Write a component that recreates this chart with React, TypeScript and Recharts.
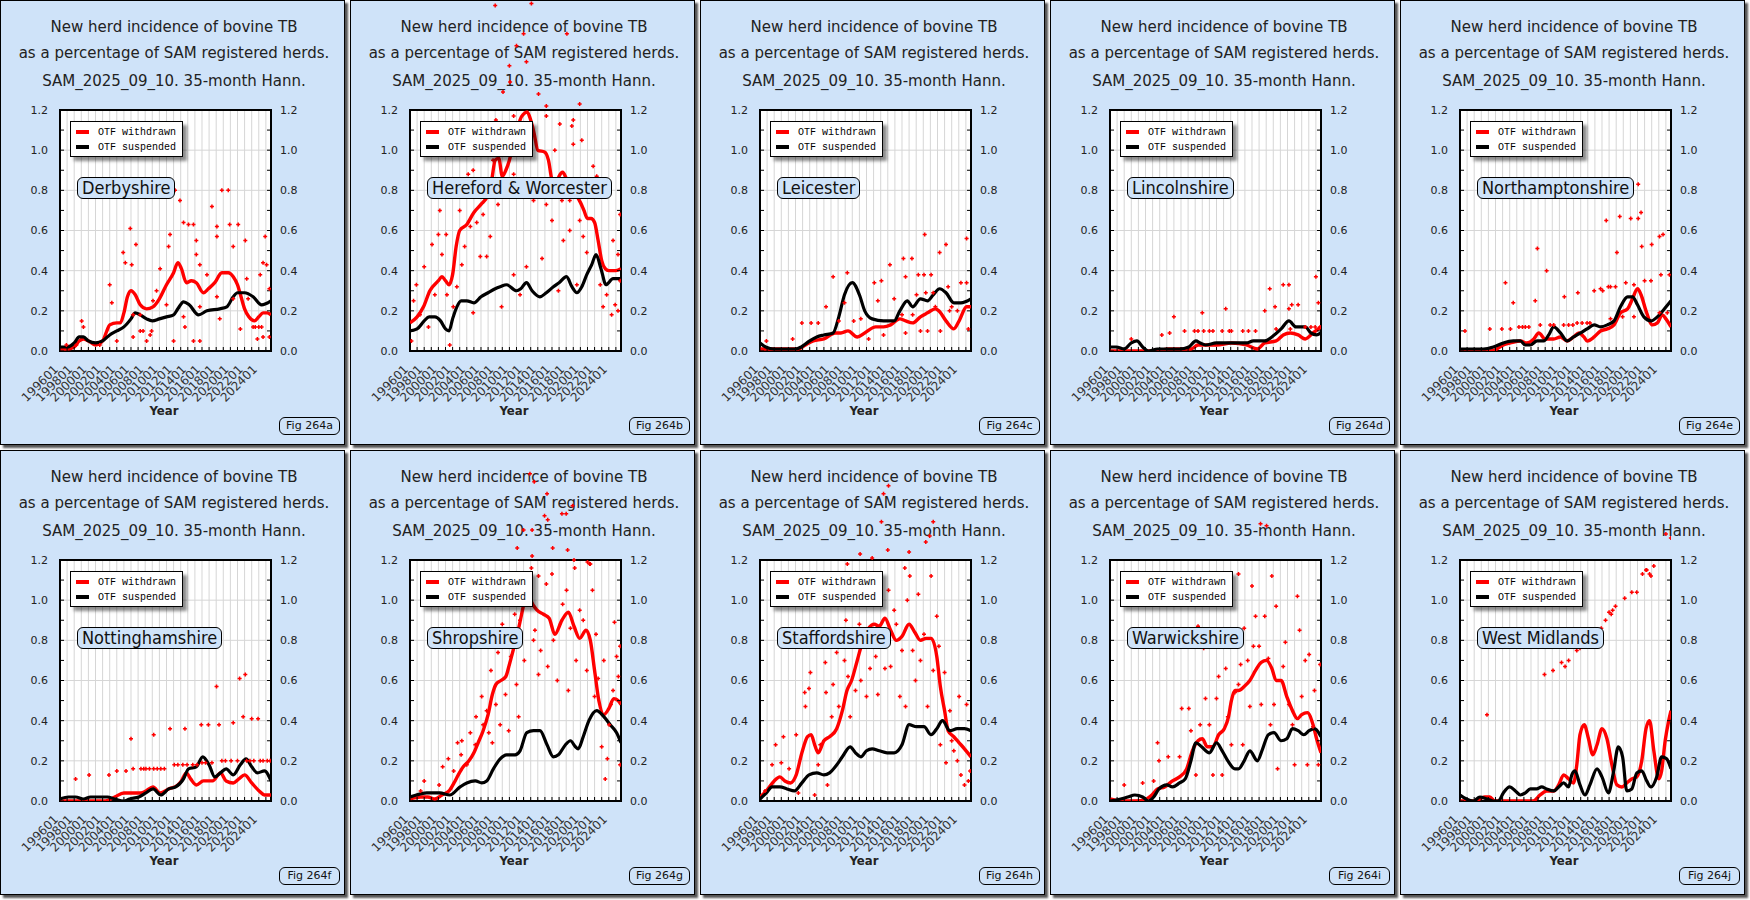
import { CartesianGrid, ComposedChart, Line, ReferenceArea, Scatter, XAxis, YAxis } from 'recharts'

type Pt = [number, number]

// ---- Derbyshire ----
const derbyshireWithdrawn: Pt[] = [
  [1996, 0.01], [1997, 0.01], [1998, 0.02], [1998.7, 0.05], [1999.3, 0.06], [2000, 0.05], [2001, 0.03], [2002, 0.05],
  [2002.6, 0.1], [2003, 0.13], [2004, 0.14], [2004.5, 0.14], [2005, 0.19], [2005.5, 0.27], [2006, 0.3], [2006.6, 0.28],
  [2007.3, 0.23], [2008.2, 0.21], [2009.1, 0.22], [2010, 0.26], [2011, 0.33], [2012, 0.39], [2012.6, 0.44], [2013.1, 0.41],
  [2013.8, 0.34], [2014.5, 0.35], [2015.2, 0.34], [2016.2, 0.29], [2016.9, 0.31], [2017.8, 0.34], [2018.8, 0.39], [2019.7, 0.39],
  [2020.4, 0.37], [2021, 0.33], [2021.5, 0.27], [2022, 0.21], [2022.6, 0.17], [2023.4, 0.15], [2024, 0.17], [2024.6, 0.19],
  [2025.2, 0.19], [2025.72, 0.18],
]
const derbyshireSuspended: Pt[] = [
  [1996, 0.02], [1997, 0.02], [1998, 0.04], [1998.7, 0.07], [1999.3, 0.07], [2000, 0.05], [2001, 0.04], [2002, 0.05],
  [2003, 0.08], [2004, 0.1], [2005, 0.12], [2006, 0.16], [2006.6, 0.19], [2007.3, 0.18], [2008.2, 0.16], [2009, 0.15],
  [2010, 0.16], [2011, 0.17], [2012, 0.18], [2012.6, 0.21], [2013.4, 0.245], [2014.2, 0.23], [2015.5, 0.18], [2016.7, 0.2],
  [2018.5, 0.21], [2019.5, 0.22], [2020.4, 0.27], [2021, 0.29], [2022, 0.29], [2023.2, 0.27], [2024.4, 0.23], [2025.72, 0.25],
]
const derbyshireMonthly: Pt[] = [
  [1999.05, 0.15], [1999.3, 0.12], [2003.0, 0.33], [2003.3, 0.24], [2004.9, 0.49], [2005.2, 0.44], [2005.9, 0.61], [2006.1, 0.43],
  [2006.7, 0.53], [2008.2, 0.05], [2007.7, 0.1], [2010.1, 0.41], [2009.1, 0.25], [2011.5, 0.58], [2011.3, 0.52], [2012.2, 0.8],
  [2012.9, 0.75], [2013.4, 0.64], [2014.1, 0.63], [2014.8, 0.63], [2015.2, 0.55], [2015.2, 0.48], [2015.7, 0.43], [2017.4, 0.72],
  [2018.1, 0.62], [2018.1, 0.57], [2018.8, 0.8], [2019.7, 0.8], [2019.9, 0.63], [2020.4, 0.52], [2021.1, 0.63], [2022.1, 0.55],
  [2022.3, 0.36], [2021.4, 0.11], [2022.5, 0.26], [2023.2, 0.12], [2024.2, 0.38], [2024.6, 0.44], [2025.1, 0.43], [2024.9, 0.57],
  [2025.5, 0.31], [2025.5, 0.07], [2024.6, 0.07], [2012.0, 0.05], [2013.6, 0.12], [2014.8, 0.05], [2015.7, 0.05], [2013.4, 0.17],
  [2015.7, 0.22], [2018.1, 0.27], [2020.4, 0.26], [2016.7, 0.38], [2018.5, 0.16], [2011.0, 0.23], [2009.6, 0.3], [2023.5, 0.12],
  [2024.0, 0.12], [2024.4, 0.12], [2023.8, 0.06], [1996.9, 0.03], [1998.3, 0.03], [2001.6, 0.03], [2004.0, 0.05], [2006.3, 0.07],
  [2007.3, 0.1], [2008.9, 0.1], [2006.3, 0.18], [2007.3, 0.18], [2008.7, 0.08],
]

// ---- Hereford & Worcester ----
const herefordWithdrawn: Pt[] = [
  [1996, 0.14], [1997, 0.17], [1997.9, 0.22], [1998.8, 0.3], [2000, 0.35], [2000.5, 0.37], [2001, 0.35], [2001.5, 0.33],
  [2002, 0.38], [2002.5, 0.52], [2003, 0.6], [2004, 0.63], [2005, 0.69], [2006, 0.73], [2007, 0.78], [2007.5, 0.85],
  [2008, 0.95], [2008.5, 0.96], [2009, 0.87], [2009.5, 0.9], [2010, 0.95], [2010.5, 1.02], [2011, 1.06], [2011.5, 1.15],
  [2012, 1.18], [2012.5, 1.19], [2013, 1.15], [2013.5, 1.08], [2014, 1.0], [2015, 0.99], [2015.5, 0.95], [2016, 0.85],
  [2016.5, 0.82], [2017, 0.87], [2017.5, 0.89], [2018, 0.86], [2018.5, 0.82], [2019, 0.78], [2019.5, 0.77], [2020, 0.74],
  [2020.5, 0.7], [2021, 0.66], [2021.5, 0.66], [2022, 0.64], [2022.5, 0.55], [2023, 0.45], [2023.5, 0.41], [2024, 0.4],
  [2025, 0.4], [2025.72, 0.41],
]
const herefordSuspended: Pt[] = [
  [1996, 0.1], [1997, 0.11], [1998, 0.15], [1998.7, 0.17], [1999.5, 0.17], [2000.3, 0.15], [2001, 0.11], [2001.5, 0.1],
  [2002, 0.16], [2002.6, 0.22], [2003.2, 0.25], [2004, 0.25], [2005, 0.24], [2006, 0.27], [2007, 0.29], [2008, 0.31],
  [2008.7, 0.32], [2009.6, 0.33], [2011, 0.3], [2011.6, 0.31], [2012.4, 0.34], [2013.2, 0.3], [2014.3, 0.27], [2015.2, 0.29],
  [2016.2, 0.32], [2017, 0.34], [2018.05, 0.37], [2018.8, 0.32], [2019.5, 0.29], [2020.2, 0.32], [2020.9, 0.38], [2021.6, 0.43],
  [2022.2, 0.48], [2022.9, 0.41], [2023.6, 0.33], [2024.6, 0.36], [2025.72, 0.36],
]
const herefordMonthly: Pt[] = [
  [1996.2, 0.05], [1996.5, 0.25], [1996.9, 0.33], [1997.4, 0.18], [1998.0, 0.42], [1998.6, 0.12], [1999.1, 0.53], [1999.5, 0.28],
  [2000.0, 0.58], [2000.2, 0.7], [2000.5, 0.48], [2001.1, 0.58], [2001.2, 0.28], [2001.6, 0.03], [2002.1, 0.22], [2002.6, 0.32],
  [2003.0, 0.7], [2003.3, 0.43], [2003.7, 0.52], [2004.0, 0.82], [2004.2, 0.88], [2004.5, 0.62], [2004.9, 0.9], [2004.9, 0.19],
  [2005.4, 0.64], [2005.9, 0.47], [2006.3, 0.68], [2006.8, 0.47], [2007.3, 0.57], [2007.7, 0.95], [2008.1, 1.15], [2008.4, 0.73],
  [2010.6, 0.88], [2011.5, 0.77], [2012.4, 0.42], [2013.4, 0.75], [2014.3, 0.8], [2015.2, 0.73], [2016.0, 0.65], [2016.4, 1.0],
  [2017.4, 0.75], [2017.6, 0.55], [2018.5, 0.6], [2019.0, 1.03], [2019.9, 0.65], [2019.5, 0.33], [2020.4, 0.57], [2020.9, 0.49],
  [2021.8, 0.92], [2022.3, 0.87], [2022.8, 0.33], [2023.2, 0.22], [2023.7, 0.28], [2024.4, 0.18], [2024.6, 0.55], [2024.9, 0.23],
  [2025.3, 0.2], [2025.6, 0.68], [2025.3, 0.48], [2025.6, 0.35], [2008.9, 0.22], [2010.6, 0.38], [2011.5, 0.28], [2014.6, 0.46],
  [2016.9, 0.3], [2018.5, 0.75], [2008.0, 1.72], [2010.0, 1.42], [2011.0, 1.52], [2012.0, 1.58], [2013.1, 1.73], [2012.4, 1.44],
  [2010.1, 1.34], [2009.1, 1.29], [2014.1, 1.28], [2015.2, 1.22], [2018.1, 1.58], [2019.9, 1.23], [2018.8, 1.12], [2010.6, 1.17],
  [2015.2, 1.17], [2017.1, 1.13], [2019.0, 1.15], [2020.2, 1.05],
]

// ---- Leicester ----
const leicesterWithdrawn: Pt[] = [
  [1996, 0.01], [1999.8, 0.01], [2001.4, 0.01], [2002.4, 0.03], [2003.5, 0.05], [2005.0, 0.06], [2006.6, 0.09], [2007.4, 0.09],
  [2008.4, 0.1], [2009.7, 0.07], [2010.75, 0.09], [2012.3, 0.12], [2013.4, 0.12], [2014.4, 0.13], [2015.7, 0.16], [2016.5, 0.15],
  [2017.5, 0.14], [2018.6, 0.17], [2019.6, 0.19], [2020.7, 0.21], [2021.2, 0.2], [2022.2, 0.15], [2023.3, 0.11], [2024.05, 0.15],
  [2025.1, 0.22], [2025.72, 0.22],
]
const leicesterSuspended: Pt[] = [
  [1996, 0.04], [1996.8, 0.02], [1998, 0.01], [2001, 0.01], [2001.8, 0.02], [2003, 0.05], [2004, 0.07], [2005, 0.08],
  [2006.3, 0.09], [2007.1, 0.17], [2007.9, 0.28], [2009.0, 0.34], [2010.0, 0.28], [2010.75, 0.2], [2011.8, 0.16], [2013.4, 0.15],
  [2014.9, 0.15], [2015.7, 0.2], [2016.75, 0.25], [2017.5, 0.22], [2018.6, 0.26], [2019.6, 0.25], [2020.4, 0.28], [2021.3, 0.31],
  [2022.2, 0.29], [2023.3, 0.24], [2024.3, 0.24], [2025.72, 0.26],
]
const leicesterMonthly: Pt[] = [
  [1996.9, 0.05], [2000.6, 0.06], [2001.9, 0.14], [2003.2, 0.14], [2004.2, 0.14], [2005.3, 0.22], [2006.3, 0.37], [2008.3, 0.39],
  [2007.9, 0.24], [2007.1, 0.15], [2009.2, 0.15], [2010.2, 0.16], [2012.1, 0.34], [2012.6, 0.25], [2013.1, 0.35], [2014.3, 0.43],
  [2014.9, 0.26], [2016.2, 0.46], [2016.5, 0.37], [2017.4, 0.46], [2018.3, 0.38], [2019.1, 0.38], [2019.2, 0.58], [2020.1, 0.38],
  [2020.4, 0.29], [2021.3, 0.49], [2021.4, 0.1], [2022.2, 0.53], [2022.5, 0.32], [2023.0, 0.22], [2024.3, 0.34], [2025.1, 0.56],
  [2025.1, 0.34], [2025.35, 0.11], [2019.6, 0.1], [2018.6, 0.1], [2016.5, 0.09], [2013.4, 0.08], [2011.3, 0.06], [2018.05, 0.28],
  [2019.35, 0.29], [2020.7, 0.22], [2022.7, 0.2], [2016.0, 0.18], [2017.5, 0.18], [2023.8, 0.2],
]

// ---- Lincolnshire ----
const lincolnshireWithdrawn: Pt[] = [
  [1996, 0.0], [2002.7, 0.0], [2004.2, 0.01], [2007.4, 0.01], [2008.4, 0.03], [2009.45, 0.03], [2011.0, 0.03], [2013.1, 0.04],
  [2015.2, 0.03], [2016.75, 0.01], [2017.8, 0.04], [2019.4, 0.05], [2020.4, 0.08], [2021.4, 0.09], [2022.5, 0.08], [2023.5, 0.06],
  [2024.6, 0.09], [2025.72, 0.12],
]
const lincolnshireSuspended: Pt[] = [
  [1996, 0.02], [1996.9, 0.02], [1998.0, 0.01], [1999.0, 0.04], [1999.8, 0.05], [2000.6, 0.02], [2001.4, 0.0], [2002.7, 0.01],
  [2005.8, 0.01], [2007.1, 0.02], [2008.1, 0.05], [2008.7, 0.04], [2009.45, 0.03], [2011.0, 0.04], [2015.2, 0.04], [2016.2, 0.05],
  [2017.8, 0.05], [2018.8, 0.07], [2020.1, 0.11], [2021.2, 0.15], [2022.2, 0.12], [2023.5, 0.12], [2024.3, 0.09], [2025.1, 0.08],
  [2025.72, 0.09],
]
const lincolnshireMonthly: Pt[] = [
  [1999.0, 0.06], [2003.3, 0.08], [2004.4, 0.09], [2005.0, 0.17], [2006.5, 0.1], [2009.0, 0.19], [2007.9, 0.1], [2009.2, 0.1],
  [2010.5, 0.1], [2011.8, 0.1], [2012.3, 0.21], [2013.1, 0.1], [2014.7, 0.1], [2016.5, 0.1], [2017.8, 0.2], [2018.5, 0.31],
  [2019.25, 0.22], [2020.4, 0.33], [2021.2, 0.33], [2021.2, 0.21], [2021.6, 0.23], [2022.5, 0.23], [2023.5, 0.12], [2025.0, 0.37],
  [2025.35, 0.24], [2025.6, 0.12], [2019.4, 0.11], [2021.4, 0.11], [2008.4, 0.1], [2010.0, 0.1], [2012.8, 0.1], [2015.5, 0.1],
  [2024.3, 0.12], [2024.9, 0.12],
]

// ---- Northamptonshire ----
const northamptonshireWithdrawn: Pt[] = [
  [1996, 0.0], [2000.2, 0.0], [2001.2, 0.01], [2002.1, 0.03], [2003.1, 0.04], [2004.5, 0.05], [2005.4, 0.04], [2006.4, 0.06],
  [2007.1, 0.09], [2008.0, 0.06], [2009.2, 0.06], [2010.15, 0.07], [2011.1, 0.05], [2012.0, 0.07], [2012.75, 0.09], [2013.45, 0.07],
  [2013.9, 0.05], [2014.9, 0.07], [2015.8, 0.1], [2016.75, 0.11], [2017.7, 0.13], [2018.6, 0.19], [2019.6, 0.21], [2020.3, 0.26],
  [2021.0, 0.31], [2021.5, 0.28], [2022.2, 0.2], [2023.1, 0.13], [2023.8, 0.14], [2024.5, 0.18], [2025.0, 0.16], [2025.72, 0.12],
]
const northamptonshireSuspended: Pt[] = [
  [1996, 0.01], [1999.3, 0.01], [2000.7, 0.02], [2002.1, 0.04], [2003.5, 0.05], [2004.5, 0.05], [2005.2, 0.03], [2005.9, 0.03],
  [2006.85, 0.05], [2007.8, 0.05], [2008.5, 0.08], [2009.2, 0.12], [2010.15, 0.09], [2011.1, 0.05], [2012.0, 0.07], [2013.0, 0.09],
  [2013.9, 0.11], [2014.9, 0.13], [2015.8, 0.12], [2016.75, 0.13], [2017.7, 0.15], [2018.6, 0.22], [2019.6, 0.27], [2020.3, 0.27],
  [2021.0, 0.23], [2021.9, 0.17], [2022.9, 0.15], [2023.8, 0.17], [2024.8, 0.21], [2025.72, 0.25],
]
const northamptonshireMonthly: Pt[] = [
  [1996.7, 0.1], [2000.2, 0.11], [2002.4, 0.34], [2003.5, 0.24], [2001.9, 0.11], [2003.1, 0.11], [2004.3, 0.12], [2005.2, 0.12],
  [2006.6, 0.25], [2006.9, 0.51], [2007.3, 0.13], [2008.2, 0.4], [2009.2, 0.13], [2010.6, 0.13], [2010.7, 0.27], [2012.5, 0.14],
  [2012.6, 0.29], [2013.9, 0.14], [2014.9, 0.3], [2015.8, 0.31], [2016.6, 0.65], [2017.2, 0.32], [2017.9, 0.32], [2018.1, 0.49],
  [2018.5, 0.67], [2019.35, 0.34], [2020.05, 0.66], [2020.5, 0.33], [2021.1, 0.83], [2021.1, 0.66], [2021.5, 0.69], [2021.6, 0.52],
  [2022.0, 0.35], [2022.9, 0.35], [2023.0, 0.53], [2024.1, 0.57], [2024.6, 0.58], [2024.3, 0.38], [2025.5, 0.38], [2024.1, 0.19],
  [2025.2, 0.19], [2018.9, 0.17], [2020.5, 0.17], [2017.2, 0.16], [2004.8, 0.12], [2005.7, 0.12], [2008.7, 0.13], [2011.3, 0.13],
  [2011.9, 0.13], [2013.2, 0.14], [2014.3, 0.14], [2016.1, 0.3], [2016.9, 0.32],
]

// ---- Nottinghamshire ----
const nottinghamshireWithdrawn: Pt[] = [
  [1996, 0.0], [2002.4, 0.0], [2003.7, 0.02], [2005.0, 0.04], [2006.3, 0.04], [2007.4, 0.04], [2008.1, 0.05], [2009.1, 0.07],
  [2010.1, 0.04], [2011.3, 0.06], [2012.6, 0.08], [2013.1, 0.1], [2013.8, 0.14], [2014.4, 0.11], [2015.2, 0.08], [2016.2, 0.1],
  [2017.5, 0.1], [2018.6, 0.14], [2019.4, 0.1], [2020.4, 0.09], [2021.2, 0.11], [2022.0, 0.13], [2023.0, 0.09], [2024.05, 0.05],
  [2024.8, 0.03], [2025.72, 0.03],
]
const nottinghamshireSuspended: Pt[] = [
  [1996, 0.01], [1997.2, 0.02], [1998.2, 0.02], [1999.3, 0.01], [2000.3, 0.02], [2002.7, 0.02], [2003.7, 0.01], [2005.0, 0.0],
  [2005.8, 0.01], [2007.1, 0.02], [2008.1, 0.04], [2009.1, 0.06], [2010.2, 0.03], [2011.3, 0.06], [2012.3, 0.07], [2013.4, 0.11],
  [2014.1, 0.16], [2015.2, 0.17], [2016.1, 0.22], [2017.0, 0.18], [2017.8, 0.12], [2018.6, 0.14], [2019.4, 0.16], [2020.4, 0.13],
  [2021.4, 0.18], [2022.2, 0.21], [2023.0, 0.17], [2023.8, 0.14], [2024.8, 0.15], [2025.72, 0.1],
]
const nottinghamshireMonthly: Pt[] = [
  [1998.2, 0.11], [2000.1, 0.13], [2002.9, 0.13], [2004.0, 0.15], [2005.3, 0.15], [2006.0, 0.31], [2006.3, 0.16], [2007.4, 0.16],
  [2008.1, 0.16], [2009.2, 0.16], [2009.2, 0.33], [2010.2, 0.16], [2011.5, 0.36], [2012.1, 0.18], [2013.6, 0.36], [2013.9, 0.18],
  [2014.7, 0.18], [2015.9, 0.38], [2016.0, 0.19], [2016.9, 0.38], [2017.4, 0.19], [2018.05, 0.57], [2018.4, 0.38], [2018.8, 0.2],
  [2020.1, 0.2], [2020.4, 0.39], [2021.3, 0.61], [2021.8, 0.42], [2022.1, 0.63], [2022.75, 0.2], [2023.0, 0.41], [2023.9, 0.41],
  [2024.6, 0.2], [2025.6, 0.2], [2007.8, 0.16], [2008.6, 0.16], [2009.7, 0.16], [2010.7, 0.16], [2012.6, 0.18], [2013.3, 0.18],
  [2015.3, 0.18], [2016.5, 0.19], [2019.3, 0.2], [2021.0, 0.2], [2022.3, 0.2], [2023.3, 0.2], [2024.2, 0.2], [2025.2, 0.2],
]

// ---- Shropshire ----
const shropshireWithdrawn: Pt[] = [
  [1996, 0.01], [1997.5, 0.02], [1998.5, 0.02], [1999.5, 0.01], [2000.5, 0.03], [2001.5, 0.05], [2002.2, 0.09], [2002.8, 0.13],
  [2003.5, 0.17], [2004.3, 0.2], [2005, 0.24], [2005.6, 0.29], [2006.3, 0.35], [2007, 0.43], [2007.6, 0.53], [2008.1, 0.58],
  [2008.8, 0.6], [2009.5, 0.62], [2010, 0.68], [2010.6, 0.76], [2011.3, 0.86], [2011.9, 0.96], [2012.5, 1.06], [2013.0, 1.0],
  [2013.9, 0.95], [2014.8, 0.93], [2015.6, 0.91], [2016.4, 0.83], [2017.4, 0.9], [2018.3, 0.94], [2019.1, 0.87], [2019.9, 0.81],
  [2020.8, 0.85], [2021.4, 0.8], [2022.0, 0.65], [2022.6, 0.5], [2023.3, 0.43], [2024.0, 0.46], [2024.7, 0.51], [2025.3, 0.5],
  [2025.72, 0.48],
]
const shropshireSuspended: Pt[] = [
  [1996, 0.02], [1996.9, 0.03], [1998.35, 0.04], [2000.2, 0.04], [2001.6, 0.03], [2003.05, 0.07], [2004, 0.09], [2005.2, 0.1],
  [2006.1, 0.09], [2006.8, 0.1], [2007.75, 0.16], [2008.7, 0.21], [2009.6, 0.23], [2010.8, 0.23], [2011.5, 0.25], [2012.45, 0.34],
  [2013.4, 0.35], [2014.3, 0.35], [2015.3, 0.28], [2016.2, 0.22], [2016.9, 0.23], [2017.9, 0.28], [2018.6, 0.3], [2019.3, 0.27],
  [2019.7, 0.26], [2020.4, 0.32], [2021.2, 0.4], [2022.3, 0.45], [2023.3, 0.42], [2024.2, 0.38], [2025.1, 0.34], [2025.72, 0.29],
]
const shropshireMonthly: Pt[] = [
  [1998.0, 0.1], [1997.5, 0.05], [2000.1, 0.08], [2000.6, 0.17], [2001.4, 0.21], [2002.15, 0.15], [2002.7, 0.29], [2003.2, 0.23],
  [2003.3, 0.3], [2004.0, 0.18], [2004.5, 0.34], [2005.3, 0.42], [2005.2, 0.28], [2006.1, 0.52], [2006.3, 0.38], [2006.8, 0.45],
  [2007.1, 0.34], [2007.4, 0.65], [2007.6, 0.29], [2008.1, 0.48], [2008.4, 0.74], [2008.7, 0.38], [2009.0, 0.88], [2009.45, 0.53],
  [2009.9, 0.35], [2010.2, 0.72], [2010.75, 0.93], [2011.0, 0.58], [2011.3, 0.42], [2011.5, 0.9], [2012.1, 0.7], [2012.6, 1.03],
  [2013.1, 1.16], [2013.4, 0.8], [2013.6, 0.85], [2014.1, 0.63], [2014.4, 0.75], [2015.2, 1.08], [2015.4, 0.67], [2016.0, 1.13],
  [2016.2, 0.8], [2016.75, 0.6], [2017.5, 0.98], [2018.05, 1.05], [2018.3, 0.55], [2018.6, 0.86], [2019.1, 1.2], [2019.4, 0.7],
  [2019.9, 0.95], [2020.4, 0.9], [2020.9, 0.65], [2021.3, 1.18], [2021.7, 1.05], [2022.0, 0.52], [2022.2, 0.83], [2022.5, 0.61],
  [2023.0, 0.27], [2023.3, 0.7], [2023.5, 0.11], [2023.8, 0.21], [2024.05, 0.38], [2024.6, 0.55], [2024.8, 0.89], [2025.1, 0.72],
  [2025.35, 0.62], [2025.6, 0.18], [2025.6, 0.77], [2024.3, 0.48], [2012.9, 1.63], [2013.5, 1.59], [2015.3, 1.53], [2018.9, 1.47],
  [2017.4, 1.43], [2018.0, 1.43], [2014.95, 1.42], [2015.4, 1.4], [2012.0, 1.35], [2013.2, 1.35], [2011.1, 1.26], [2016.1, 1.26],
  [2018.2, 1.25], [2013.2, 1.22], [2021.0, 1.19], [2021.4, 1.18], [2019.2, 1.16], [2014.1, 1.12],
]

// ---- Staffordshire ----
const staffordshireWithdrawn: Pt[] = [
  [1996, 0.02], [1996.9, 0.05], [1998.0, 0.1], [1998.8, 0.12], [1999.5, 0.1], [2000.3, 0.09], [2001.1, 0.13], [2001.9, 0.24],
  [2002.7, 0.32], [2003.2, 0.33], [2003.7, 0.28], [2004.2, 0.24], [2005.0, 0.3], [2005.8, 0.32], [2006.8, 0.36], [2007.6, 0.45],
  [2008.25, 0.55], [2008.9, 0.6], [2009.7, 0.7], [2010.5, 0.8], [2011.3, 0.86], [2012.1, 0.88], [2012.8, 0.87], [2013.6, 0.91],
  [2014.4, 0.85], [2015.2, 0.8], [2016.0, 0.82], [2017.0, 0.88], [2017.8, 0.84], [2018.6, 0.8], [2019.4, 0.81], [2020.1, 0.81],
  [2020.9, 0.72], [2021.4, 0.57], [2022.0, 0.45], [2022.5, 0.35], [2023.3, 0.32], [2024.05, 0.29], [2024.8, 0.26], [2025.72, 0.22],
]
const staffordshireSuspended: Pt[] = [
  [1996, 0.01], [1996.9, 0.04], [1997.7, 0.07], [1998.8, 0.07], [1999.8, 0.06], [2000.85, 0.05], [2001.9, 0.09], [2002.9, 0.13],
  [2004.0, 0.14], [2005.0, 0.13], [2005.8, 0.14], [2006.6, 0.17], [2007.6, 0.22], [2008.7, 0.27], [2009.45, 0.24], [2010.2, 0.22],
  [2011.0, 0.25], [2011.8, 0.26], [2012.8, 0.25], [2013.9, 0.24], [2014.9, 0.24], [2016.0, 0.28], [2017.0, 0.38], [2018.05, 0.37],
  [2019.1, 0.37], [2020.1, 0.33], [2020.9, 0.36], [2021.7, 0.4], [2022.75, 0.35], [2023.8, 0.36], [2024.8, 0.36], [2025.72, 0.35],
]
const staffordshireMonthly: Pt[] = [
  [1996.7, 0.05], [1997.7, 0.18], [1998.2, 0.28], [1999.0, 0.19], [1999.3, 0.32], [2000.1, 0.16], [2001.1, 0.33], [2001.4, 0.04],
  [2002.3, 0.54], [2002.4, 0.47], [2002.9, 0.56], [2003.1, 0.64], [2003.7, 0.03], [2004.2, 0.18], [2004.5, 0.28], [2005.2, 0.69],
  [2005.3, 0.54], [2005.5, 0.08], [2006.1, 0.42], [2006.3, 0.58], [2006.8, 0.74], [2007.1, 0.47], [2007.9, 0.7], [2008.1, 0.9],
  [2008.4, 0.62], [2008.7, 0.42], [2009.2, 0.85], [2009.45, 0.55], [2010.0, 0.88], [2010.2, 0.6], [2011.0, 0.52], [2011.3, 0.78],
  [2011.5, 0.66], [2012.1, 1.02], [2012.3, 0.72], [2012.6, 0.53], [2013.1, 0.84], [2013.6, 0.66], [2014.1, 1.05], [2014.4, 0.67],
  [2014.9, 0.95], [2015.2, 0.88], [2015.7, 0.52], [2016.0, 0.75], [2016.4, 1.16], [2016.5, 0.47], [2016.75, 1.0], [2017.1, 1.12],
  [2017.5, 0.75], [2017.9, 0.6], [2018.3, 1.03], [2018.6, 0.7], [2019.1, 0.83], [2019.6, 0.47], [2020.1, 1.12], [2020.4, 0.65],
  [2020.9, 0.92], [2021.2, 0.77], [2021.4, 0.28], [2022.0, 0.64], [2022.2, 0.19], [2022.75, 0.45], [2023.0, 0.3], [2023.3, 0.25],
  [2023.8, 0.2], [2024.05, 0.52], [2024.3, 0.13], [2024.8, 0.08], [2025.1, 0.48], [2025.35, 0.1], [2025.6, 0.15], [2008.3, 1.18],
  [2010.1, 1.23], [2011.8, 1.21], [2014.0, 1.25], [2017.0, 1.24], [2019.35, 1.29], [2019.9, 1.32], [2020.4, 1.39], [2013.1, 1.39],
  [2014.1, 1.57], [2013.4, 1.53],
]

// ---- Warwickshire ----
const warwickshireWithdrawn: Pt[] = [
  [1996, 0.01], [1997.5, 0.0], [1999.5, 0.0], [2001.1, 0.01], [2001.9, 0.03], [2002.7, 0.06], [2003.7, 0.07], [2004.8, 0.1],
  [2005.8, 0.12], [2006.8, 0.16], [2007.6, 0.25], [2008.4, 0.3], [2009.0, 0.31], [2009.7, 0.27], [2010.5, 0.27], [2011.3, 0.33],
  [2012.1, 0.36], [2012.7, 0.42], [2013.1, 0.5], [2013.6, 0.55], [2014.1, 0.55], [2014.9, 0.57], [2015.7, 0.6], [2016.5, 0.65],
  [2017.3, 0.69], [2018.05, 0.7], [2018.8, 0.66], [2019.4, 0.6], [2020.1, 0.6], [2020.9, 0.52], [2021.7, 0.45], [2022.4, 0.41],
  [2023.0, 0.43], [2023.8, 0.44], [2024.6, 0.38], [2025.1, 0.31], [2025.72, 0.24],
]
const warwickshireSuspended: Pt[] = [
  [1996, 0.0], [1997.5, 0.01], [1998.5, 0.02], [1999.5, 0.03], [2000.6, 0.02], [2001.4, 0.0], [2002.15, 0.02], [2002.9, 0.06],
  [2004.0, 0.08], [2004.8, 0.07], [2005.8, 0.09], [2006.6, 0.11], [2007.4, 0.2], [2008.1, 0.29], [2008.9, 0.27], [2010.0, 0.24],
  [2011.0, 0.29], [2011.8, 0.25], [2012.6, 0.2], [2013.6, 0.16], [2014.1, 0.16], [2014.9, 0.2], [2015.7, 0.25], [2016.75, 0.2],
  [2017.5, 0.26], [2018.3, 0.33], [2019.1, 0.34], [2020.1, 0.3], [2020.9, 0.31], [2021.7, 0.36], [2022.5, 0.35], [2023.3, 0.33],
  [2024.05, 0.35], [2024.8, 0.36], [2025.72, 0.32],
]
const warwickshireMonthly: Pt[] = [
  [1998.0, 0.08], [2000.6, 0.09], [2002.15, 0.1], [2002.7, 0.29], [2002.9, 0.2], [2004.2, 0.22], [2005.8, 0.22], [2006.1, 0.46],
  [2007.1, 0.46], [2007.4, 0.35], [2008.1, 0.13], [2008.4, 0.87], [2008.7, 0.38], [2009.2, 0.76], [2009.45, 0.51], [2010.0, 0.38],
  [2010.5, 0.13], [2011.0, 0.51], [2011.3, 0.62], [2011.8, 0.13], [2012.3, 0.66], [2012.6, 0.42], [2013.1, 0.28], [2013.6, 0.54],
  [2014.1, 0.58], [2014.4, 0.68], [2014.7, 0.28], [2014.9, 0.86], [2015.4, 0.7], [2015.7, 0.47], [2016.0, 1.07], [2016.2, 0.77],
  [2016.5, 0.92], [2017.0, 0.77], [2017.3, 0.48], [2017.8, 0.92], [2018.3, 0.71], [2018.6, 0.38], [2018.8, 1.12], [2019.1, 0.48],
  [2019.4, 0.97], [2019.6, 0.16], [2020.4, 0.67], [2020.7, 0.79], [2021.2, 0.48], [2021.7, 0.38], [2022.0, 0.18], [2022.4, 1.02],
  [2022.7, 0.85], [2023.0, 0.52], [2023.5, 0.7], [2023.8, 0.18], [2024.05, 0.73], [2024.6, 0.37], [2024.8, 0.55], [2025.35, 0.18],
  [2025.6, 0.68], [2014.1, 1.13], [2017.2, 1.38], [2018.05, 1.37],
]

// ---- West Midlands ----
const westMidlandsWithdrawn: Pt[] = [
  [1996, 0.0], [1997.9, 0.0], [1998.8, 0.01], [1999.5, 0.02], [2000.2, 0.02], [2000.9, 0.0], [2006.3, 0.0], [2007.3, 0.03],
  [2008.2, 0.05], [2009.2, 0.05], [2009.9, 0.08], [2010.6, 0.13], [2011.3, 0.11], [2012.0, 0.09], [2012.45, 0.18], [2012.9, 0.33],
  [2013.5, 0.38], [2014.1, 0.31], [2014.7, 0.23], [2015.3, 0.28], [2016.0, 0.36], [2016.7, 0.31], [2017.4, 0.18], [2018.1, 0.08],
  [2018.8, 0.07], [2019.5, 0.09], [2020.2, 0.11], [2020.9, 0.12], [2021.6, 0.2], [2022.2, 0.36], [2022.7, 0.4], [2023.3, 0.25],
  [2024.0, 0.11], [2024.4, 0.15], [2024.9, 0.3], [2025.4, 0.4], [2025.72, 0.45],
]
const westMidlandsSuspended: Pt[] = [
  [1996, 0.03], [1996.9, 0.01], [1997.9, 0.0], [1998.8, 0.02], [1999.8, 0.01], [2000.7, 0.0], [2001.4, 0.0], [2002.1, 0.04],
  [2003.0, 0.07], [2003.8, 0.05], [2004.5, 0.03], [2005.2, 0.04], [2005.9, 0.06], [2006.8, 0.06], [2007.5, 0.07], [2008.2, 0.06],
  [2009.2, 0.05], [2009.9, 0.07], [2010.6, 0.09], [2011.3, 0.07], [2011.75, 0.13], [2012.2, 0.15], [2012.9, 0.08], [2013.6, 0.03],
  [2014.3, 0.08], [2015.3, 0.16], [2016.0, 0.12], [2016.9, 0.04], [2017.6, 0.14], [2018.3, 0.27], [2018.9, 0.22], [2019.5, 0.05],
  [2020.2, 0.06], [2020.9, 0.14], [2021.6, 0.15], [2022.3, 0.1], [2022.9, 0.07], [2023.7, 0.12], [2024.4, 0.22], [2025.1, 0.21],
  [2025.72, 0.16],
]
const westMidlandsMonthly: Pt[] = [
  [1999.8, 0.43], [2007.9, 0.63], [2009.1, 0.65], [2010.3, 0.69], [2010.8, 0.67], [2011.3, 0.7], [2012.45, 0.75], [2012.9, 0.76],
  [2015.9, 0.86], [2016.5, 0.9], [2017.0, 0.94], [2017.3, 0.93], [2017.5, 0.95], [2017.9, 0.97], [2019.2, 1.01], [2020.2, 1.04],
  [2020.9, 1.04], [2021.7, 1.13], [2022.2, 1.15], [2022.3, 1.15], [2022.7, 1.13], [2022.9, 1.12], [2023.3, 1.17], [2025.0, 1.33],
  [2025.7, 1.31],
]

const yearTicks = [
  1996, 1997, 1998, 1999, 2000, 2001, 2002, 2003, 2004, 2005, 2006, 2007, 2008, 2009, 2010,
  2011, 2012, 2013, 2014, 2015, 2016, 2017, 2018, 2019, 2020, 2021, 2022, 2023, 2024, 2025,
]
const yTicks = [0, 0.1, 0.2, 0.3, 0.4, 0.5, 0.6, 0.7, 0.8, 0.9, 1.0, 1.1, 1.2]
const yGridValues = [0.2, 0.4, 0.6, 0.8, 1.0, 1.2]
const titleLines = [
  'New herd incidence of bovine TB',
  'as a percentage of SAM registered herds.',
  'SAM_2025_09_10. 35-month Hann.',
]

const panels = [
  { name: 'Derbyshire', fig: 'Fig 264a', withdrawn: derbyshireWithdrawn, suspended: derbyshireSuspended, monthly: derbyshireMonthly },
  { name: 'Hereford & Worcester', fig: 'Fig 264b', withdrawn: herefordWithdrawn, suspended: herefordSuspended, monthly: herefordMonthly },
  { name: 'Leicester', fig: 'Fig 264c', withdrawn: leicesterWithdrawn, suspended: leicesterSuspended, monthly: leicesterMonthly },
  { name: 'Lincolnshire', fig: 'Fig 264d', withdrawn: lincolnshireWithdrawn, suspended: lincolnshireSuspended, monthly: lincolnshireMonthly },
  { name: 'Northamptonshire', fig: 'Fig 264e', withdrawn: northamptonshireWithdrawn, suspended: northamptonshireSuspended, monthly: northamptonshireMonthly },
  { name: 'Nottinghamshire', fig: 'Fig 264f', withdrawn: nottinghamshireWithdrawn, suspended: nottinghamshireSuspended, monthly: nottinghamshireMonthly },
  { name: 'Shropshire', fig: 'Fig 264g', withdrawn: shropshireWithdrawn, suspended: shropshireSuspended, monthly: shropshireMonthly },
  { name: 'Staffordshire', fig: 'Fig 264h', withdrawn: staffordshireWithdrawn, suspended: staffordshireSuspended, monthly: staffordshireMonthly },
  { name: 'Warwickshire', fig: 'Fig 264i', withdrawn: warwickshireWithdrawn, suspended: warwickshireSuspended, monthly: warwickshireMonthly },
  { name: 'West Midlands', fig: 'Fig 264j', withdrawn: westMidlandsWithdrawn, suspended: westMidlandsSuspended, monthly: westMidlandsMonthly },
]

// layout (px)
const X_MIN = 1996
const X_MAX = 2025.72
const INNER_W = 343
const INNER_H = 443
const PLOT_TOP = 109
const PLOT_BOTTOM = 350
const MARGIN = { top: PLOT_TOP, right: 33, bottom: 33, left: 19 }
const BG = '#cfe3f9'
const SANS = "'DejaVu Sans', Verdana, sans-serif"
const CONDENSED = "'DejaVu Sans Condensed', 'DejaVu Sans', sans-serif"

const toXY = (a: Pt[]) => a.map(([x, y]) => ({ x, y }))
const fmtY = (v: number) => (Math.round(v * 10) % 2 === 0 ? v.toFixed(1) : '')

function YearTick({ x, y, payload }: any) {
  const yr = payload.value as number
  if (yr % 2 !== 0) return <g />
  return (
    <g transform={`translate(${x - 1},${y + 19})`}>
      <text transform="rotate(-45)" textAnchor="end" fontSize={12} fill="#333" fontFamily={SANS}>
        {`${yr}01`}
      </text>
    </g>
  )
}

function Plus({ cx, cy }: any) {
  return <path d={`M${cx - 2},${cy}h4M${cx},${cy - 2}v4`} stroke="#ff0000" strokeWidth={1.5} />
}

function Panel({ p, left, top }: { p: (typeof panels)[number]; left: number; top: number }) {
  // overlay chart spans from the panel top down to the plot bottom, same y scale per pixel
  const overlayMax = (1.2 * PLOT_BOTTOM) / (PLOT_BOTTOM - PLOT_TOP)
  return (
    <div
      style={{
        position: 'absolute', left, top, width: 345, height: 445, boxSizing: 'border-box',
        border: '1px solid #000', background: BG, boxShadow: '3px 3px 2px #555', overflow: 'hidden',
      }}
    >
      {titleLines.map((t, i) => (
        <div
          key={i}
          style={{
            position: 'absolute', left: 0, width: 346, top: [16, 42, 70][i], lineHeight: '20px',
            textAlign: 'center', fontFamily: SANS, fontSize: 15, color: '#222', whiteSpace: 'nowrap',
          }}
        >
          {t}
        </div>
      ))}

      <div style={{ position: 'absolute', left: 0, top: 0 }}>
        <ComposedChart width={INNER_W} height={INNER_H} margin={MARGIN}>
          <CartesianGrid yAxisId="l" stroke="#d6d6d6" fill="#fff" horizontalValues={yGridValues} />
          <XAxis
            type="number" dataKey="x" domain={[X_MIN, X_MAX]} ticks={yearTicks} interval={0} height={60}
            allowDataOverflow axisLine={false} tickSize={-4} tickMargin={4} tickLine={{ stroke: '#000' }} tick={<YearTick />}
          />
          <YAxis
            yAxisId="l" type="number" domain={[0, 1.2]} ticks={yTicks} interval={0} width={40} allowDataOverflow
            axisLine={false} tickSize={-4} tickMargin={16} tickLine={{ stroke: '#000' }} tickFormatter={fmtY}
            tick={{ fontSize: 11, fill: '#222', fontFamily: SANS }}
          />
          <YAxis
            yAxisId="r" orientation="right" type="number" domain={[0, 1.2]} ticks={yTicks} interval={0} width={40}
            allowDataOverflow axisLine={false} tickSize={-4} tickMargin={13} tickLine={{ stroke: '#000' }} tickFormatter={fmtY}
            tick={{ fontSize: 11, fill: '#222', fontFamily: SANS, textAnchor: 'start' }}
          />
          <Line
            yAxisId="l" data={toXY(p.withdrawn)} dataKey="y" type="monotone" stroke="#ff0000" strokeWidth={3.4}
            dot={false} isAnimationActive={false}
          />
          <Line
            yAxisId="l" data={toXY(p.suspended)} dataKey="y" type="monotone" stroke="#000" strokeWidth={3.2}
            dot={false} isAnimationActive={false}
          />
          <ReferenceArea
            yAxisId="l" x1={X_MIN} x2={X_MAX} y1={0} y2={1.2} fill="none" fillOpacity={0} stroke="#000" strokeWidth={2}
          />
        </ComposedChart>
      </div>

      <div style={{ position: 'absolute', left: 0, top: 0 }}>
        <ComposedChart width={INNER_W} height={INNER_H} margin={{ top: 0, right: 73, bottom: 93, left: 59 }}>
          <XAxis type="number" dataKey="x" domain={[X_MIN, X_MAX]} hide allowDataOverflow />
          <YAxis type="number" dataKey="y" domain={[0, overlayMax]} hide allowDataOverflow />
          <Scatter data={toXY(p.monthly)} fill="#ff0000" shape={<Plus />} isAnimationActive={false} />
        </ComposedChart>
      </div>

      {/* legend */}
      <div
        style={{
          position: 'absolute', left: 69, top: 120, width: 113, height: 36, boxSizing: 'border-box',
          background: '#fff', border: '1px solid #000', boxShadow: '4px 4px 3px rgba(0,0,0,0.45)',
          fontFamily: "'Liberation Mono', 'DejaVu Sans Mono', monospace", fontSize: 10, color: '#000',
        }}
      >
        {[
          { c: '#ff0000', t: 'OTF withdrawn', y: 3 },
          { c: '#000', t: 'OTF suspended', y: 18 },
        ].map((r) => (
          <div key={r.t} style={{ position: 'absolute', left: 5, top: r.y, height: 14, display: 'flex', alignItems: 'center' }}>
            <span style={{ display: 'inline-block', width: 13, height: 4, background: r.c, marginRight: 9 }} />
            <span>{r.t}</span>
          </div>
        ))}
      </div>

      {/* county label */}
      <div
        style={{
          position: 'absolute', left: 76, top: 176, height: 22, boxSizing: 'border-box', padding: '0 4px',
          border: '1px solid #000', borderRadius: 6, background: BG, fontFamily: CONDENSED, fontSize: 18,
          lineHeight: '20px', color: '#111', whiteSpace: 'nowrap',
        }}
      >
        {p.name}
      </div>

      <div
        style={{
          position: 'absolute', left: 113, width: 100, top: 402, textAlign: 'center', fontFamily: CONDENSED,
          fontWeight: 'bold', fontSize: 13, lineHeight: '16px', color: '#222',
        }}
      >
        Year
      </div>

      <div
        style={{
          position: 'absolute', left: 278, top: 416, width: 61, height: 18, boxSizing: 'border-box',
          border: '1px solid #000', borderRadius: 6, background: BG, fontFamily: SANS, fontSize: 11,
          lineHeight: '16px', textAlign: 'center', color: '#111',
        }}
      >
        {p.fig}
      </div>
    </div>
  )
}

export default function App() {
  return (
    <div style={{ position: 'relative', width: 1750, height: 900, background: '#fff' }}>
      <style>{'body{margin:0}'}</style>
      {panels.map((p, i) => (
        <Panel key={p.name} p={p} left={(i % 5) * 350} top={Math.floor(i / 5) * 450} />
      ))}
    </div>
  )
}
